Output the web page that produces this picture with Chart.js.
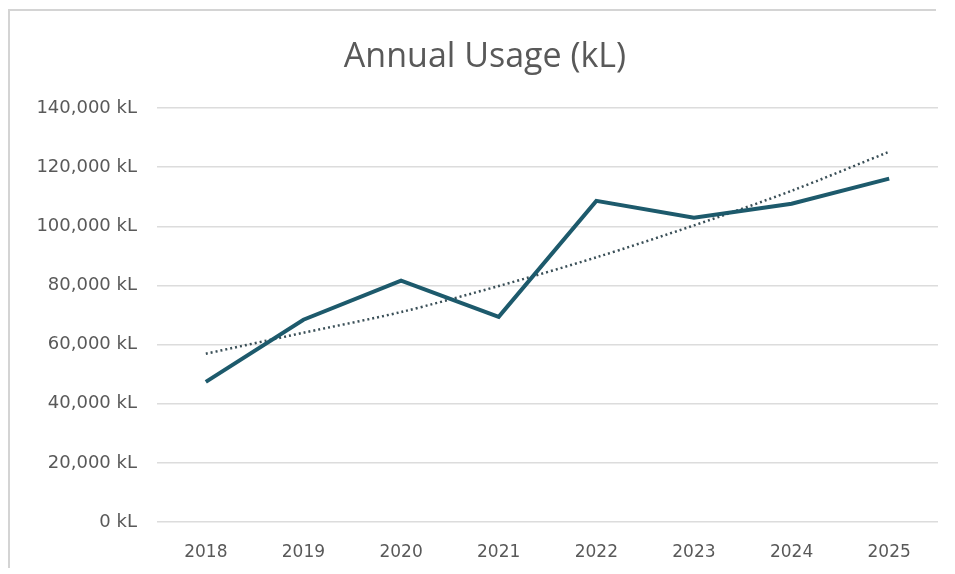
<!DOCTYPE html>
<html>
<head>
<meta charset="utf-8">
<script src="https://cdn.jsdelivr.net/npm/chart.js@4"></script>
<style>
  html, body { margin: 0; padding: 0; background: #ffffff; }
  #wrap { width: 955px; height: 574px; position: relative; }
</style>
</head>
<body>
<div id="wrap"><canvas id="chart"></canvas></div>
<script>
// values
const years = ['2018', '2019', '2020', '2021', '2022', '2023', '2024', '2025'];
const usage = [47400, 68400, 81600, 69400, 108600, 102900, 107600, 116100];
// trendline as it sits on the picture (bends upward slightly)
const trend = [56900, 64000, 71000, 79800, 89500, 100300, 112000, 125200];
const yTicks = [0, 20000, 40000, 60000, 80000, 100000, 120000, 140000];

const lineColor = '#1d5a6c';
const gridColor = '#dcdcdc';
const textColor = '#595959';

// faint frame round the chart, like the copied picture
const framePlugin = {
    id: 'frame',
    beforeDraw(chart) {
        const ctx = chart.ctx;
        ctx.save();
        ctx.fillStyle = '#ffffff';
        ctx.fillRect(0, 0, chart.width, chart.height);
        ctx.strokeStyle = '#d4d4d4';
        ctx.lineWidth = 2;
        ctx.beginPath();
        ctx.moveTo(9, 568);
        ctx.lineTo(9, 10);
        ctx.lineTo(936, 10);
        ctx.stroke();
        ctx.restore();
    }
};

new Chart(document.getElementById('chart'), {
    type: 'line',
    data: {
        labels: years,
        datasets: [
            {
                label: 'Usage',
                data: usage,
                borderColor: lineColor,
                borderWidth: 4,
                pointRadius: 0,
                tension: 0,
                fill: false,
                order: 1
            },
            {
                label: 'Trend (Usage)',
                data: trend,
                borderColor: '#3a4f57',
                borderWidth: 2.5,
                borderDash: [2, 3],
                pointRadius: 0,
                tension: 0.3,
                fill: false,
                order: 2
            }
        ]
    },
    options: {
        responsive: true,
        maintainAspectRatio: false,
        animation: false,
        // left padding pushes the title centre to where it sits in the picture
        layout: { padding: { left: 32, right: 17, top: 0, bottom: 0 } },
        plugins: {
            legend: { display: false },
            tooltip: { enabled: false },
            title: {
                display: true,
                text: 'Annual Usage (kL)',
                color: textColor,
                font: { family: 'Open Sans', size: 34, weight: 'normal', lineHeight: 1.2 },
                padding: { top: 37, bottom: 30.2 }
            }
        },
        scales: {
            x: {
                offset: true,
                grid: { display: false, drawTicks: false },
                border: { display: false },
                ticks: {
                    color: textColor,
                    font: { family: 'DejaVu Sans', size: 17 },
                    padding: 20,
                    maxRotation: 0
                },
                afterFit(scale) { scale.height = 52; }
            },
            y: {
                min: 0,
                max: 140000,
                afterBuildTicks(scale) {
                    scale.ticks = yTicks.map(v => ({ value: v }));
                },
                grid: { color: gridColor, lineWidth: 1.5, drawTicks: false },
                border: { display: false },
                ticks: {
                    color: textColor,
                    font: { family: 'DejaVu Sans', size: 18 },
                    padding: 20,
                    callback: v => v.toLocaleString('en-US') + ' kL'
                },
                afterFit(scale) { scale.width = 125; }
            }
        }
    },
    plugins: [framePlugin]
});
</script>
</body>
</html>
